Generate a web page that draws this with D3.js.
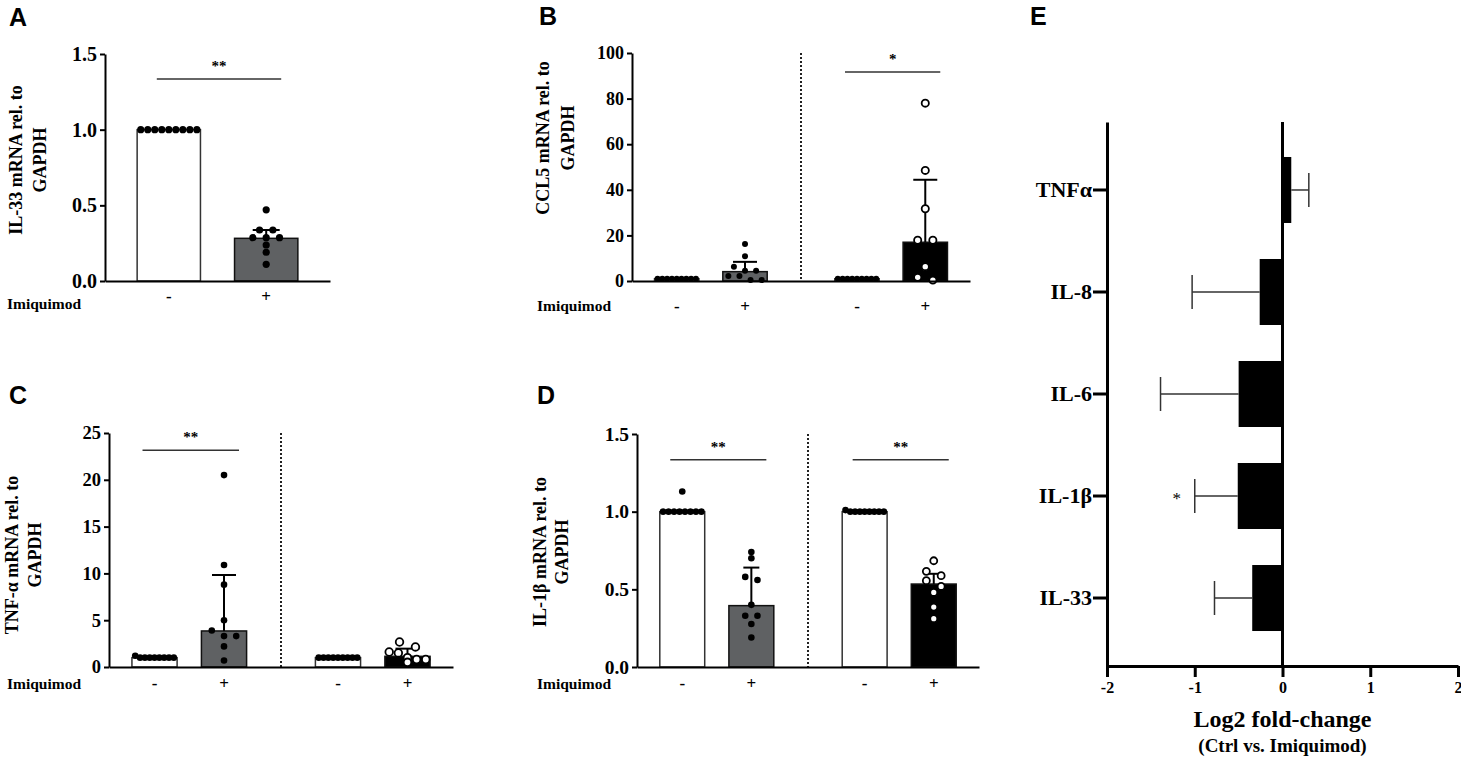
<!DOCTYPE html>
<html><head><meta charset="utf-8">
<script src="https://cdn.jsdelivr.net/npm/d3@7"></script>
<style>
body{margin:0;background:#fff}
svg{display:block}
</style>
</head><body>
<svg id="fig" width="1461" height="757"></svg>
<script>
// ---------------- DATA ----------------
const conditionLabels = ["-", "+"];
const rowTitle = "Imiquimod";

// Panel A : IL-33
const aTicks = [0, 0.5, 1.0, 1.5];
const aMeans = [1.0, 0.282];
const aSDs = [0, 0.055];
const aCtrl = [1, 1, 1, 1, 1, 1, 1, 1, 1];
const aImq = [0.47, 0.337, 0.337, 0.286, 0.286, 0.286, 0.238, 0.19, 0.11];
const aSigY = 1.335;

// Panel B : CCL5
const bTicks = [0, 20, 40, 60, 80, 100];
const bMeansL = [1, 4.1];
const bSDsL = [0, 4.3];
const bCtrlL = [1, 1, 1, 1, 1, 1, 1, 1, 1];
const bImqL = [16.2, 10.9, 6.2, 4.5, 4.5, 2.2, 2.2, 0.4, 0.4];
const bMeansR = [1, 17];
const bSDsR = [0, 27.4];
const bCtrlR = [1, 1, 1, 1, 1, 1, 1, 1, 1];
const bImqR = [78, 48.5, 31.7, 17.9, 17.9, 6.3, 1.6, 0.4];
const bSigY = 91.7;

// Panel C : TNF-alpha
const cTicks = [0, 5, 10, 15, 20, 25];
const cMeansL = [1, 3.85];
const cSDsL = [0, 5.98];
const cCtrlL = [1.2, 1, 1, 1, 1, 1, 1, 1, 1];
const cImqL = [20.5, 10.9, 8.8, 5.0, 3.9, 3.3, 3.3, 2.2, 0.7];
const cMeansR = [1, 1.14];
const cSDsR = [0, 0.82];
const cCtrlR = [1, 1, 1, 1, 1, 1, 1, 1, 1];
const cImqR = [2.67, 2.14, 1.6, 1.5, 1.0, 0.8, 0.8, 0.5];
const cSigY = 23.15;

// Panel D : IL-1beta
const dTicks = [0, 0.5, 1.0, 1.5];
const dMeansL = [1, 0.395];
const dSDsL = [0, 0.245];
const dCtrlL = [1.13, 1, 1, 1, 1, 1, 1, 1, 1];
const dImqL = [0.74, 0.70, 0.58, 0.56, 0.40, 0.33, 0.33, 0.277, 0.19];
const dMeansR = [1, 0.534];
const dSDsR = [0, 0.066];
const dCtrlR = [1.01, 1, 1, 1, 1, 1, 1, 1, 1];
const dImqR = [0.684, 0.616, 0.588, 0.556, 0.519, 0.48, 0.386, 0.311];
const dSigY = 1.335;

// Panel E : log2 fold change
const eCats = ["TNFα", "IL-8", "IL-6", "IL-1β", "IL-33"];
const eVals = [0.1, -0.26, -0.5, -0.51, -0.345];
const eErrs = [0.2, 0.77, 0.89, 0.49, 0.43];
const eSig = ["", "", "", "*", ""];
const eTicks = [-2, -1, 0, 1, 2];

// ---------------- STYLE / LAYOUT ----------------
const SERIF = '"Liberation Serif","Times New Roman",Times,serif';
const SANS = '"Liberation Sans",Arial,Helvetica,sans-serif';
const GRAY = "#5f6163";
const svg = d3.select("#fig");

function bold(sel, size, fam) {
  return sel.attr("font-family", fam || SERIF).attr("font-weight", "bold")
    .attr("font-size", size).attr("fill", "#000");
}

function layoutDots(vals, y, d, sep, maxOff) {
  const pts = vals.map(v => ({ v, py: y(v) })).sort((a, b) => a.py - b.py);
  const rows = [];
  pts.forEach(p => {
    const r = rows[rows.length - 1];
    if (r && p.py - r[0].py < 0.9 * d) r.push(p); else rows.push([p]);
  });
  rows.forEach(r => {
    const n = r.length;
    const s = n > 1 ? Math.min(sep, 2 * maxOff / (n - 1)) : 0;
    r.forEach((p, i) => p.dx = (i - (n - 1) / 2) * s);
  });
  return pts;
}

function panel(p) {
  const g = svg.append("g");
  const y = d3.scaleLinear().domain([0, p.ticks[p.ticks.length - 1]]).range([p.yBot, p.yTop]);
  const outer = d3.scaleBand().domain(d3.range(p.groups.length)).range([p.x0, p.x1])
    .paddingInner(p.groups.length > 1 ? 0.125 : 0).paddingOuter(0);
  const inner = d3.scaleBand().domain([0, 1]).range([0, outer.bandwidth()])
    .paddingInner(0.35).paddingOuter(0.33);
  const bw = inner.bandwidth();
  const cx = (gi, ci) => outer(gi) + inner(ci) + bw / 2;

  // dividers
  for (let gi = 1; gi < p.groups.length; gi++) {
    const xd = (outer(gi - 1) + outer.bandwidth() + outer(gi)) / 2;
    g.append("line").attr("x1", xd).attr("x2", xd).attr("y1", p.yTop).attr("y2", p.yBot)
      .attr("stroke", "#222").attr("stroke-width", 2).attr("stroke-dasharray", "2,2");
  }

  p.groups.forEach((grp, gi) => {
    // bars
    grp.means.forEach((m, ci) => {
      g.append("rect").attr("x", cx(gi, ci) - bw / 2).attr("width", bw)
        .attr("y", y(m)).attr("height", y(0) - y(m))
        .attr("fill", grp.fills[ci]).attr("stroke", ci === 0 ? "#333" : "#111").attr("stroke-width", 1.5);
    });
    // error bars
    grp.means.forEach((m, ci) => {
      const sd = grp.sds[ci];
      if (!sd) return;
      const x = cx(gi, ci);
      g.append("line").attr("x1", x).attr("x2", x).attr("y1", y(m)).attr("y2", y(m + sd))
        .attr("stroke", "#000").attr("stroke-width", 2);
      g.append("line").attr("x1", x - grp.cap / 2).attr("x2", x + grp.cap / 2)
        .attr("y1", y(m + sd)).attr("y2", y(m + sd)).attr("stroke", "#000").attr("stroke-width", 2);
    });
    // dots
    grp.dots.forEach((vals, ci) => {
      const open = grp.open[ci];
      const r = open ? p.rOpen : p.r;
      const d = 2 * r + (open ? 1 : 0);
      const pts = layoutDots(vals, y, d, 1.85 * d, (bw - d) / 2);
      g.selectAll(null).data(pts).join("circle")
        .attr("cx", q => cx(gi, ci) + q.dx).attr("cy", q => q.py).attr("r", r)
        .attr("fill", open ? "#fff" : "#000")
        .attr("stroke", "#000").attr("stroke-width", open ? 1.8 : 0);
    });
    // significance
    if (grp.sig) {
      const xa = cx(gi, 0) - 12, xb = cx(gi, 1) + 15, ys = y(grp.sigY);
      g.append("line").attr("x1", xa).attr("x2", xb).attr("y1", ys).attr("y2", ys)
        .attr("stroke", "#333").attr("stroke-width", 1.5);
      bold(g.append("text"), 15).attr("x", (xa + xb) / 2).attr("y", ys - 8)
        .attr("text-anchor", "middle").text(grp.sig);
    }
    // condition labels
    conditionLabels.forEach((lab, ci) => {
      bold(g.append("text"), 17).attr("x", cx(gi, ci)).attr("y", p.condY)
        .attr("text-anchor", "middle").text(lab);
    });
  });

  // axes
  const ax = g.append("g").attr("transform", `translate(${p.x0},0)`)
    .call(d3.axisLeft(y).tickValues(p.ticks).tickFormat(p.fmt).tickSize(5).tickPadding(3).tickSizeOuter(0));
  ax.select(".domain").attr("stroke", "#000").attr("stroke-width", 2);
  ax.selectAll(".tick line").attr("stroke", "#000").attr("stroke-width", 2);
  bold(ax.selectAll(".tick text"), p.tickFs);

  const bx = g.append("g").attr("transform", `translate(0,${p.yBot})`)
    .call(d3.axisBottom(outer).tickValues([]).tickSizeOuter(0));
  bx.select(".domain").attr("stroke", "#000").attr("stroke-width", 2);

  // row title
  bold(g.append("text"), 15.5).attr("x", p.rowX).attr("y", p.rowY).text(rowTitle);

  // y label
  const yl = bold(g.append("text"), 18).attr("text-anchor", "middle")
    .attr("transform", `translate(${p.ylX},${p.ylY}) rotate(-90)`);
  yl.append("tspan").attr("x", 0).attr("dy", 0).text(p.ylabel[0]);
  yl.append("tspan").attr("x", 0).attr("dy", p.ylGap).text(p.ylabel[1]);

  // panel letter
  bold(g.append("text"), 25, SANS).attr("x", p.letterX).attr("y", p.letterY).text(p.letter);
}

const f1 = d3.format(".1f"), f0 = d3.format("d");

panel({
  letter: "A", letterX: 9, letterY: 26,
  x0: 105, x1: 330, yTop: 54, yBot: 281, ticks: aTicks, fmt: f1, tickFs: 20,
  r: 3.6, rOpen: 3.6, condY: 302, rowX: 7, rowY: 309,
  ylabel: ["IL-33 mRNA rel. to", "GAPDH"], ylX: 22, ylY: 160, ylGap: 24,
  groups: [{ means: aMeans, sds: aSDs, dots: [aCtrl, aImq], fills: ["#fff", GRAY], open: [false, false], cap: 27, sig: "**", sigY: aSigY }]
});

panel({
  letter: "B", letterX: 539, letterY: 25,
  x0: 632, x1: 970, yTop: 53, yBot: 281, ticks: bTicks, fmt: f0, tickFs: 18,
  r: 3, rOpen: 3.6, condY: 312, rowX: 537, rowY: 311,
  ylabel: ["CCL5 mRNA rel. to", "GAPDH"], ylX: 549, ylY: 138, ylGap: 25,
  groups: [
    { means: bMeansL, sds: bSDsL, dots: [bCtrlL, bImqL], fills: ["#fff", GRAY], open: [false, false], cap: 24, sig: null },
    { means: bMeansR, sds: bSDsR, dots: [bCtrlR, bImqR], fills: ["#fff", "#000"], open: [false, true], cap: 24, sig: "*", sigY: bSigY }
  ]
});

panel({
  letter: "C", letterX: 9, letterY: 404,
  x0: 109, x1: 453, yTop: 433, yBot: 667, ticks: cTicks, fmt: f0, tickFs: 18.5,
  r: 3.3, rOpen: 3.8, condY: 689, rowX: 7, rowY: 689,
  ylabel: ["TNF-α mRNA rel. to", "GAPDH"], ylX: 18, ylY: 555, ylGap: 23,
  groups: [
    { means: cMeansL, sds: cSDsL, dots: [cCtrlL, cImqL], fills: ["#fff", GRAY], open: [false, false], cap: 24, sig: "**", sigY: cSigY },
    { means: cMeansR, sds: cSDsR, dots: [cCtrlR, cImqR], fills: ["#fff", "#000"], open: [false, true], cap: 24, sig: null }
  ]
});

panel({
  letter: "D", letterX: 537, letterY: 404,
  x0: 637, x1: 979, yTop: 434, yBot: 667, ticks: dTicks, fmt: f1, tickFs: 19.5,
  r: 3.3, rOpen: 3.5, condY: 689, rowX: 537, rowY: 689,
  ylabel: ["IL-1β mRNA rel. to", "GAPDH"], ylX: 546, ylY: 552, ylGap: 22,
  groups: [
    { means: dMeansL, sds: dSDsL, dots: [dCtrlL, dImqL], fills: ["#fff", GRAY], open: [false, false], cap: 16, sig: "**", sigY: dSigY },
    { means: dMeansR, sds: dSDsR, dots: [dCtrlR, dImqR], fills: ["#fff", "#000"], open: [false, true], cap: 10, sig: "**", sigY: dSigY }
  ]
});

// ---------------- PANEL E ----------------
(function () {
  const g = svg.append("g");
  const x = d3.scaleLinear().domain([eTicks[0], eTicks[eTicks.length - 1]]).range([1107, 1458]);
  const y = d3.scaleBand().domain(eCats).range([122, 666]).paddingInner(0.353).paddingOuter(0.343);
  const bh = y.bandwidth();

  g.selectAll(null).data(eCats).join("rect")
    .attr("x", (c, i) => Math.min(x(0), x(eVals[i])))
    .attr("width", (c, i) => Math.abs(x(eVals[i]) - x(0)))
    .attr("y", c => y(c)).attr("height", bh).attr("fill", "#000");

  eCats.forEach((c, i) => {
    const v = eVals[i], e = eErrs[i] * Math.sign(v);
    const yc = y(c) + bh / 2;
    g.append("line").attr("x1", x(v)).attr("x2", x(v + e)).attr("y1", yc).attr("y2", yc)
      .attr("stroke", "#333").attr("stroke-width", 1.5);
    g.append("line").attr("x1", x(v + e)).attr("x2", x(v + e)).attr("y1", yc - 17).attr("y2", yc + 17)
      .attr("stroke", "#333").attr("stroke-width", 1.5);
    if (eSig[i]) {
      bold(g.append("text"), 17).attr("font-weight", "normal").attr("x", x(v + e) - 18).attr("y", yc + 8)
        .attr("text-anchor", "middle").text(eSig[i]);
    }
  });

  // zero line
  g.append("line").attr("x1", x(0)).attr("x2", x(0)).attr("y1", 122).attr("y2", 666)
    .attr("stroke", "#000").attr("stroke-width", 3);

  const ay = g.append("g").attr("transform", `translate(${x(eTicks[0])},0)`)
    .call(d3.axisLeft(y).tickSize(14).tickPadding(1).tickSizeOuter(0));
  ay.select(".domain").attr("stroke", "#000").attr("stroke-width", 3);
  ay.selectAll(".tick line").attr("stroke", "#000").attr("stroke-width", 3);
  bold(ay.selectAll(".tick text"), 22);

  const axb = g.append("g").attr("transform", `translate(0,666)`)
    .call(d3.axisBottom(x).tickValues(eTicks).tickFormat(d => String(d)).tickSize(11).tickPadding(5).tickSizeOuter(0));
  axb.select(".domain").attr("stroke", "#000").attr("stroke-width", 3);
  axb.selectAll(".tick line").attr("stroke", "#000").attr("stroke-width", 3);
  bold(axb.selectAll(".tick text"), 16);

  bold(g.append("text"), 24).attr("x", x(0)).attr("y", 727).attr("text-anchor", "middle").text("Log2 fold-change");
  bold(g.append("text"), 19).attr("x", x(0)).attr("y", 752).attr("text-anchor", "middle").text("(Ctrl vs. Imiquimod)");
  bold(g.append("text"), 25, SANS).attr("x", 1030).attr("y", 25).text("E");
})();
</script>
</body></html>
